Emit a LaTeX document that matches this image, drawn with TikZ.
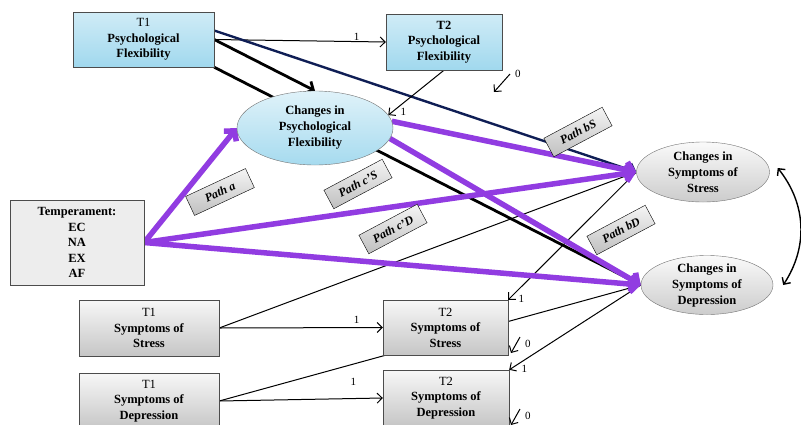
\documentclass[tikz,border=0pt]{standalone}
\usepackage{fontspec}
\setmainfont{Liberation Serif}
\usetikzlibrary{shapes.geometric,arrows.meta,backgrounds}
\definecolor{pathpurple}{RGB}{145,60,225}
\definecolor{pathnavy}{RGB}{15,30,85}
\definecolor{waterblue}{RGB}{150,212,236}
\tikzset{%
  varbox/.style     = {shape=rectangle, draw=black!70, align=center, inner sep=1pt,%
                       font=\fontsize{12.5}{15.5}\selectfont\bfseries},%
  flexbox/.style    = {varbox, top color=waterblue!45, bottom color=waterblue!90},%
  sympbox/.style    = {varbox, top color=gray!6, bottom color=gray!45},%
  tempbox/.style    = {varbox, fill=gray!14},%
  change/.style     = {shape=ellipse, draw=black!55, align=center, inner xsep=0pt,%
                       inner ysep=-6pt, font=\fontsize{12.5}{16}\selectfont\bfseries,%
                       top color=gray!4, bottom color=gray!40},%
  flexchange/.style = {change, top color=waterblue!30, bottom color=waterblue!85},%
  pathlbl/.style    = {shape=rectangle, draw, rotate=28, minimum width=66pt,%
                       minimum height=21pt, inner sep=1pt, top color=gray!8,%
                       bottom color=gray!50, font=\fontsize{12}{13}\selectfont\bfseries\itshape},%
  wlabel/.style     = {font=\fontsize{11}{12}\selectfont, inner sep=1pt},%
  thinline/.style   = {line width=1pt},%
  thinarrow/.style  = {thinline, -{Straight Barb[length=5pt,width=10pt]}},%
  thickblack/.style = {line width=2.8pt, -{Straight Barb[length=6pt,width=13pt]}},%
  navyarrow/.style  = {pathnavy, line width=2.4pt, -{Straight Barb[length=6pt,width=13pt]}},%
  purplepath/.style = {pathpurple, line width=5.5pt, -{Straight Barb[length=7pt,width=16pt]}},%
  covary/.style     = {line width=1.4pt, {Straight Barb[length=5pt,width=10pt]}-{Straight Barb[length=5pt,width=10pt]}}%
}
\begin{document}
\begin{tikzpicture}[x=1pt,y=-1pt]
  \useasboundingbox (0,0) rectangle (801,424);
  \node[flexbox, minimum width=141pt, minimum height=55pt] (pf1) at (143.5,39.5)
    {{\mdseries T1}\\Psychological\\Flexibility};
  \node[flexbox, minimum width=116pt, minimum height=56pt] (pf2) at (444,42)
    {T2\\Psychological\\Flexibility};
  \node[tempbox, minimum width=134pt, minimum height=85pt] (temp) at (77,242.5)
    {Temperament:\\EC\\NA\\EX\\AF};
  \node[sympbox, minimum width=140pt, minimum height=56pt] (st1) at (149,328)
    {{\mdseries T1}\\Symptoms of\\Stress};
  \node[sympbox, minimum width=140pt, minimum height=56pt] (dep1) at (149,401)
    {{\mdseries T1}\\Symptoms of\\Depression};
  \node[sympbox, minimum width=125pt, minimum height=55pt] (st2) at (445.5,327.5)
    {{\mdseries T2}\\Symptoms of\\Stress};
  \node[sympbox, minimum width=126pt, minimum height=56pt] (dep2) at (446,398)
    {{\mdseries T2}\\Symptoms of\\Depression};
  \node[flexchange, minimum width=156pt, minimum height=74pt] (cpf) at (315,128)
    {Changes in\\Psychological\\Flexibility};
  \node[change, minimum width=133pt, minimum height=60pt] (cst) at (703,172)
    {Changes in\\Symptoms of\\Stress};
  \node[change, minimum width=132pt, minimum height=59pt] (cdep) at (707,285)
    {Changes in\\Symptoms of\\Depression};
  \coordinate (epf) at (510,74);
  \coordinate (epft) at (494,92);
  \coordinate (est) at (520,337);
  \coordinate (estt) at (511,353);
  \coordinate (edep) at (520,409);
  \coordinate (edept) at (511,425);

  \begin{pgfonlayer}{background}
    \draw[thinarrow] (pf1.east) -- node[wlabel, pos=0.83, above] {1} (pf2.west);
    \draw[thickblack] (pf1.east) -- (cpf.north);
    \draw[thickblack] (pf1.south east) -- (cdep.west);
    \draw[navyarrow] ([yshift=9pt]pf1.east) -- (cst.west);
    \draw[thinarrow] (pf2.south) -- node[wlabel, pos=0.93, right=7pt] {1} (cpf.10);
    \draw[thinline] (st1.east) -- (cst.west);
    \draw[thinline] (dep1.east) -- (cdep.west);
    \draw[thinarrow] (cst.west) -- node[wlabel, pos=1, anchor=west, xshift=9pt, yshift=1pt] {1} (st2.north east);
    \draw[thinarrow] (cdep.west) -- node[wlabel, pos=1, anchor=west, xshift=11pt, yshift=1pt] {1} (dep2.north east);
    \draw[thinarrow] (st1.east) -- node[wlabel, pos=0.84, above=3pt] {1} (st2.west);
    \draw[thinarrow] (dep1.east) -- node[wlabel, pos=0.82, above=12pt] {1} (dep2.west);
    \draw[purplepath] (temp.east) -- (cpf.west);
    \draw[purplepath] (temp.east) -- (cst.west);
    \draw[purplepath] (temp.east) -- (cdep.west);
    \draw[purplepath] (cpf.5) -- (cst.west);
    \draw[purplepath] (cpf.-8) -- (cdep.west);
  \end{pgfonlayer}

  \draw[thinarrow] (epf) -- (epft);
  \node[wlabel, anchor=west] at ([xshift=4pt]epf) {0};
  \draw[thinarrow] (est) -- (estt);
  \node[wlabel, anchor=west] at ([xshift=4pt,yshift=-7pt]est) {0};
  \draw[thinarrow] (edep) -- (edept);
  \node[wlabel, anchor=west] at ([xshift=4pt,yshift=-7pt]edep) {0};
  \draw[covary] ([xshift=8pt,yshift=4pt]cst.east) to[bend left=36] ([xshift=10pt]cdep.east);

  \node[pathlbl, rotate=-3] (pa) at (220,192) {Path a};
  \node[pathlbl] (pcs) at (358,184) {Path c'S};
  \node[pathlbl] (pcd) at (393,229) {Path c'D};
  \node[pathlbl] (pbs) at (578,132) {Path bS};
  \node[pathlbl] (pbd) at (621,230) {Path bD};
\end{tikzpicture}
\end{document}
